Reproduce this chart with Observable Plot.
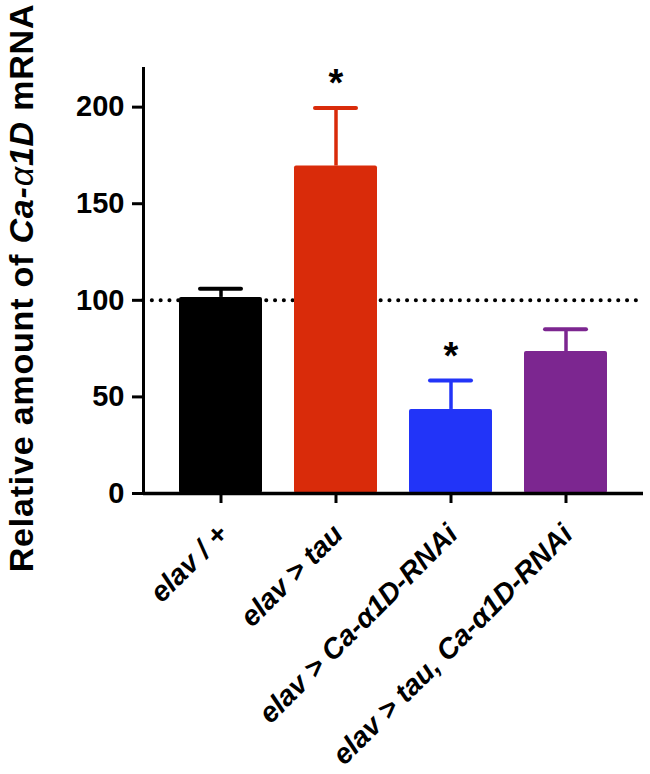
<!DOCTYPE html>
<html><head><meta charset="utf-8">
<script src="https://cdn.jsdelivr.net/npm/d3@7"></script>
<script src="https://cdn.jsdelivr.net/npm/@observablehq/plot@0.6"></script>
<style>body{margin:0;background:#fff}</style>
</head><body><div id="chart"></div>
<script>
const categories = ["elav / +", "elav > tau", "elav > Ca-\u03B11D-RNAi", "elav > tau, Ca-\u03B11D-RNAi"];
const means = [101.5, 169.5, 43.5, 73.5];
const sems = [4.5, 30, 15, 11.5];
const significant = [false, true, true, false];
const colors = ["#000000", "#d92b0a", "#2234f8", "#7c2690"];
const yTicks = [0, 50, 100, 150, 200];
const refLine = [100];
const yLabel = "Relative amount of Ca-\u03B11D mRNA";

const data = categories.map((c, i) => ({cat: c, mean: means[i], sem: sems[i], top: means[i] + sems[i], sig: significant[i], color: colors[i]}));
const font = "'Liberation Sans', Arial, Helvetica, sans-serif";

const plot = Plot.plot({
  width: 650, height: 774,
  marginLeft: 143, marginRight: 7, marginTop: 68, marginBottom: 281,
  style: {fontFamily: font, background: "#fff", color: "#000"},
  x: {domain: categories, paddingInner: 0.28, paddingOuter: 0.3, axis: null},
  y: {domain: [0, 220], axis: null},
  color: {type: "identity"},
  marks: [
    Plot.ruleY(refLine, {stroke: "#000", strokeWidth: 4, strokeDasharray: "0.1 8.7", strokeLinecap: "round"}),
    Plot.ruleX(data, {x: "cat", y1: "mean", y2: "top", stroke: "color", strokeWidth: 3.5}),
    Plot.tickY(data, {x: "cat", y: "top", stroke: "color", strokeWidth: 4, strokeLinecap: "round", insetLeft: 21, insetRight: 21}),
    Plot.barY(data, {x: "cat", y: "mean", fill: "color", rx: 2}),
    Plot.text(data.filter(d => d.sig), {x: "cat", y: "top", text: () => "*", fontSize: 38, fontWeight: "bold", dy: -24}),
    Plot.axisY({ticks: yTicks, tickSize: 11, tickPadding: 8, strokeWidth: 3, fontSize: 29, fontWeight: "bold", label: null}),
    Plot.axisX({tickSize: 10, strokeWidth: 3, tickFormat: () => "", label: null}),
    Plot.ruleY([0], {strokeWidth: 3.5}),
    Plot.frame({anchor: "left", strokeWidth: 3}),
    Plot.text(categories, {x: d => d, y: 0, text: d => d, rotate: -45, textAnchor: "end", fontSize: 28.5, fontWeight: "bold", fontStyle: "italic", dx: 2, dy: 36}),
    Plot.text([yLabel], {frameAnchor: "left", text: d => d, rotate: -90, textAnchor: "middle", fontSize: 34, fontWeight: "bold", dx: -111, dy: 7, lineAnchor: "bottom"})
  ]
});
document.getElementById("chart").appendChild(plot);

// style the italic gene name inside the y-axis title
d3.select(plot).selectAll("text").filter(function() { return this.textContent === yLabel; }).each(function() {
  const t = d3.select(this);
  t.text(null).style("letter-spacing", "0.8px");
  t.append("tspan").text("Relative amount of ");
  t.append("tspan").attr("font-style", "italic").text("Ca-");
  t.append("tspan").attr("font-style", "italic").attr("font-weight", "normal").text("\u03B1");
  t.append("tspan").attr("font-style", "italic").text("1D");
  t.append("tspan").text(" mRNA");
});
</script>
</body></html>
